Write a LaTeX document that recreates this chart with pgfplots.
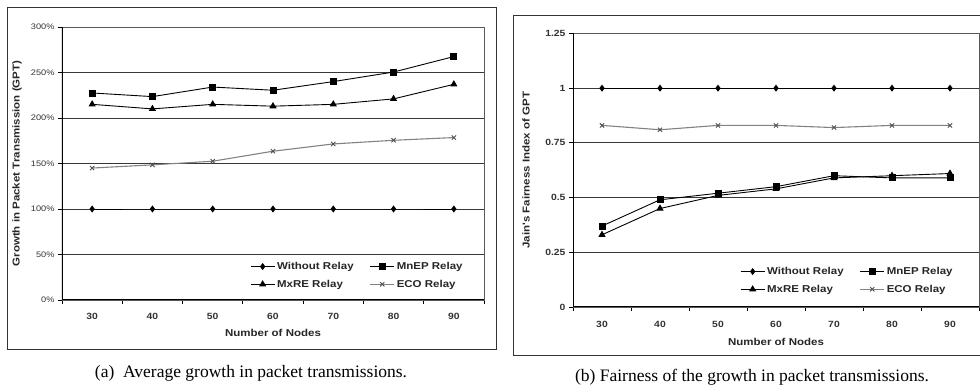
\documentclass[border=0pt]{standalone}
\usepackage{fontspec}
\setmainfont{Liberation Serif}
\newfontfamily\cf[FakeStretch=1.15]{Liberation Sans}
\usepackage{pgfplots}
\pgfplotsset{compat=1.18}
\definecolor{gridc}{RGB}{55,55,55}
\definecolor{ecoc}{RGB}{130,130,130}
\pgfplotsset{
  common/.style={
    scale only axis,
    /pgf/number format/assume math mode=true,
    xmin=25, xmax=95,
    xtick={30,40,...,90},
    minor xtick={25,35,...,95},
    major x tick style={draw=none},
    minor x tick style={black, line width=0.8pt},
    minor tick length=4pt,
    major tick length=4pt,
    tick align=outside,
    xtick pos=bottom, ytick pos=left,
    ymajorgrids,
    grid style={gridc, line width=0.9pt},
    axis line style={gray!70!black, line width=0.9pt},
    ytick style={black, line width=0.8pt},
    ticklabel style={font=\cf\bfseries\fontsize{9}{10}\selectfont, text=black!80},
    label style={font=\cf\bfseries\fontsize{10}{11}\selectfont, text=black!85},
    legend columns=2,
    legend cell align=left,
    legend style={draw=none, fill=none, font=\cf\bfseries\fontsize{10}{11}\selectfont, text=black!85,
      inner sep=0pt, row sep=5pt, /tikz/every even column/.append style={column sep=14pt}},
    legend image code/.code={\draw[mark repeat=2,mark phase=2] plot coordinates {(0pt,0pt)(12pt,0pt)(24pt,0pt)};},
  },
  wo/.style={black, line width=0.9pt, mark=diamond*, mark size=2.8pt, mark options={solid, fill=black}},
  mn/.style={black, line width=0.9pt, mark=square*, mark size=3pt, mark options={solid, fill=black}},
  mx/.style={black, line width=0.9pt, mark=triangle*, mark size=3.3pt, mark options={solid, fill=black}},
  eco/.style={ecoc, line width=1.1pt, mark=x, mark size=3pt, mark options={solid, ecoc!60!black, line width=0.9pt}},
}
\begin{document}
\begin{tikzpicture}[x=1pt,y=1pt]
\useasboundingbox (0,0) rectangle (980,385);
\draw[line width=1pt, black!80] (7,35) rectangle (496,377);
\draw[line width=1pt, black!80] (513,29) rectangle (995,369);
\begin{axis}[common,
  at={(62pt,85pt)}, anchor=south west, width=422pt, height=273pt,
  ymin=0, ymax=300, ytick={0,50,...,300},
  yticklabels={0\%,50\%,100\%,150\%,200\%,250\%,300\%},
  yticklabel style={font=\cf\fontsize{8}{9}\selectfont},
  xticklabel shift=6pt,
  ylabel={Growth in Packet Transmission (GPT)},
  ylabel style={at={(axis description cs:-0.1066,0.5)}, anchor=center},
  xlabel={Number of Nodes},
  xlabel style={at={(axis description cs:0.5,-0.121)}, anchor=center},
  legend style={at={(axis cs:25,0)}, anchor=north west, xshift=188pt, yshift=40pt},
]
\addplot[wo] coordinates {(30,100)(40,100)(50,100)(60,100)(70,100)(80,100)(90,100)};
\addlegendentry{Without Relay}
\addplot[mn] coordinates {(30,227.5)(40,223.5)(50,234)(60,230.5)(70,240)(80,250.5)(90,267.5)};
\addlegendentry{MnEP Relay}
\addplot[mx] coordinates {(30,215)(40,210)(50,215)(60,213)(70,215)(80,221)(90,237)};
\addlegendentry{MxRE Relay}
\addplot[eco] coordinates {(30,145)(40,148.5)(50,152.5)(60,163.5)(70,171.5)(80,175.5)(90,178.5)};
\addlegendentry{ECO Relay}
\draw[black, line width=1.1pt] (rel axis cs:0,0) -- (rel axis cs:1,0);
\draw[black, line width=1.1pt] (rel axis cs:0,0) -- (rel axis cs:0,1);
\end{axis}
\begin{axis}[common,
  at={(573pt,78pt)}, anchor=south west, width=406pt, height=273.5pt,
  ymin=0, ymax=1.25, ytick={0,0.25,...,1.25},
  yticklabels={0,0.25,0.5,0.75,1,1.25},
  xticklabel shift=7pt,
  ylabel={Jain's Fairness Index of GPT},
  ylabel style={at={(axis description cs:-0.1158,0.5)}, anchor=center},
  xlabel={Number of Nodes},
  xlabel style={at={(axis description cs:0.5,-0.128)}, anchor=center},
  legend style={at={(axis cs:25,0)}, anchor=north west, xshift=167pt, yshift=42pt},
]
\addplot[wo] coordinates {(30,1)(40,1)(50,1)(60,1)(70,1)(80,1)(90,1)};
\addlegendentry{Without Relay}
\addplot[mn] coordinates {(30,0.37)(40,0.49)(50,0.52)(60,0.55)(70,0.60)(80,0.59)(90,0.59)};
\addlegendentry{MnEP Relay}
\addplot[mx] coordinates {(30,0.33)(40,0.45)(50,0.51)(60,0.54)(70,0.59)(80,0.60)(90,0.61)};
\addlegendentry{MxRE Relay}
\addplot[eco] coordinates {(30,0.83)(40,0.81)(50,0.83)(60,0.83)(70,0.82)(80,0.83)(90,0.83)};
\addlegendentry{ECO Relay}
\draw[black, line width=1.1pt] (rel axis cs:0,0) -- (rel axis cs:1,0);
\draw[black, line width=1.1pt] (rel axis cs:0,0) -- (rel axis cs:0,1);
\end{axis}
\node[font=\fontsize{17.5}{19}\selectfont, inner sep=0pt] at (251,12) {(a)\ \ Average growth in packet transmissions.};
\node[font=\fontsize{17.5}{19}\selectfont, inner sep=0pt] at (752,8) {(b) Fairness of the growth in packet transmissions.};
\end{tikzpicture}
\end{document}
